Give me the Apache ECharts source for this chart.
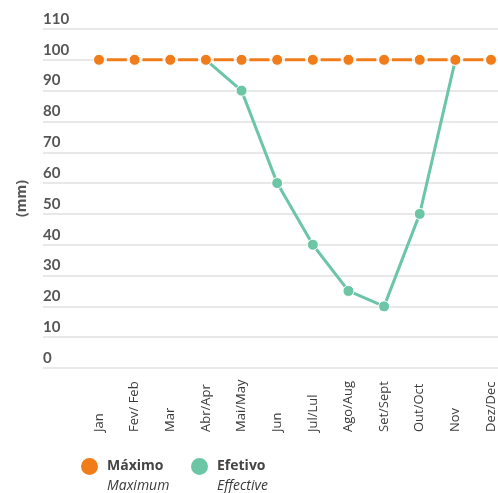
<!DOCTYPE html>
<html>
<head>
	<meta charset="utf-8">
	<title>Máximo / Efetivo</title>
	<style>
		html, body { margin: 0; padding: 0; background: #fff; }
		#main { width: 498px; height: 493px; }
	</style>
</head>
<body>
	<script src="https://cdn.jsdelivr.net/npm/echarts@6/dist/echarts.min.js" type="text/javascript" charset="utf-8"></script>

	<div id="main"></div>
	<script type="text/javascript">
		// 数据
		var months = ['Jan', 'Fev/ Feb', 'Mar', 'Abr/Apr', 'Mai/May', 'Jun', 'Jul/Lul',
			'Ago/Aug', 'Set/Sept', 'Out/Oct', 'Nov', 'Dez/Dec'];
		var maximo = [100, 100, 100, 100, 100, 100, 100, 100, 100, 100, 100, 100];
		var efetivo = [null, null, null, 100, 90, 60, 40, 25, 20, 50, 100, null];
		var yMin = 0, yMax = 110, yStep = 10;
		var englishNames = { 'Máximo': 'Maximum', 'Efetivo': 'Effective' };

		var orange = '#f07d1a';
		var green = '#6cc6a5';

		var myChart = echarts.init(document.getElementById('main'));

		// 图例 (one per item so each can be placed on its own)
		function makeLegend(name, left) {
			return {
				left: left,
				top: 451,
				itemWidth: 19,
				itemHeight: 19,
				icon: 'circle',
				data: [name],
				formatter: function (n) {
					return '{a|' + n + '}\n{b|' + englishNames[n] + '}';
				},
				textStyle: {
					padding: [20, 0, 0, 3],
					rich: {
						a: { fontFamily: 'Open Sans', fontWeight: 'bold', fontSize: 14, color: '#444', lineHeight: 20 },
						b: { fontFamily: 'Open Sans', fontStyle: 'italic', fontSize: 14, color: '#3a3a3a', lineHeight: 20 }
					}
				}
			};
		}

		var option = {
			animation: false,
			grid: [
				// 背景网格线 (full width)
				{ left: 43, right: 0, top: 29, bottom: 125 },
				// 数据
				{ left: 99, right: 7, top: 29, bottom: 125 }
			],
			legend: [makeLegend('Máximo', 74), makeLegend('Efetivo', 184)],
			xAxis: [
				{ type: 'value', gridIndex: 0, show: false, min: 0, max: 1 },
				{
					type: 'category',
					gridIndex: 1,
					data: months,
					boundaryGap: false,
					axisLine: { show: false },
					axisTick: { show: false },
					splitLine: { show: false },
					axisLabel: {
						interval: 0,
						rotate: 90,
						align: 'left',
						margin: 64,
						fontFamily: 'Open Sans',
						fontSize: 13,
						color: '#3a3a3a'
					}
				}
			],
			yAxis: [
				{
					type: 'value',
					gridIndex: 0,
					min: yMin,
					max: yMax,
					interval: yStep,
					name: '(mm)',
					nameLocation: 'middle',
					nameGap: 14,
					nameRotate: 90,
					nameTextStyle: { fontFamily: 'Open Sans', fontWeight: 'bold', fontSize: 14, color: '#555' },
					axisLine: { show: false },
					axisTick: { show: false },
					splitLine: { lineStyle: { color: '#e8e8e8', width: 2 } },
					axisLabel: {
						inside: true,
						margin: 0,
						verticalAlign: 'bottom',
						lineHeight: 16,
						padding: [0, 0, 2, 0],
						fontFamily: 'Lato',
						fontWeight: 'bold',
						fontSize: 15,
						color: '#555'
					}
				},
				{ type: 'value', gridIndex: 1, min: yMin, max: yMax, interval: yStep, show: false, splitLine: { show: false } }
			],
			series: [
				{
					name: 'Efetivo',
					type: 'line',
					xAxisIndex: 1,
					yAxisIndex: 1,
					data: efetivo,
					symbol: 'circle',
					symbolSize: 11,
					color: green,
					lineStyle: { color: green, width: 3 },
					itemStyle: { color: green, borderColor: '#fff', borderWidth: 1 }
				},
				{
					name: 'Máximo',
					type: 'line',
					xAxisIndex: 1,
					yAxisIndex: 1,
					data: maximo,
					symbol: 'circle',
					symbolSize: 11,
					color: orange,
					lineStyle: { color: orange, width: 3, type: [20, 15.64], dashOffset: 27.8 },
					itemStyle: { color: orange, borderColor: '#fff', borderWidth: 1 },
					z: 3
				}
			]
		};

		myChart.setOption(option);
	</script>
</body>
</html>
